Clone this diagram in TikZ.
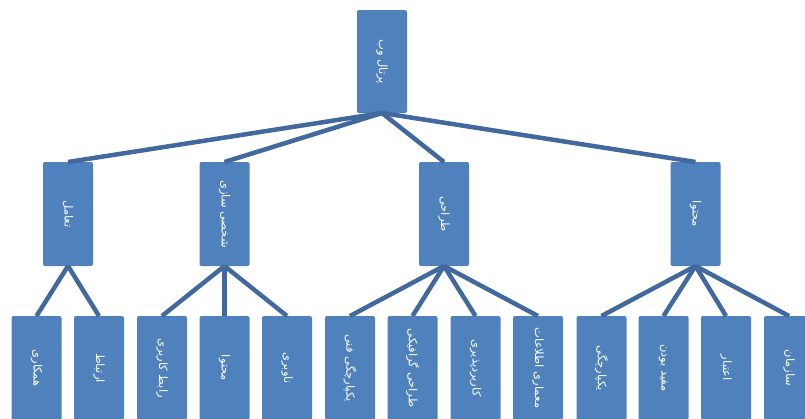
\documentclass[tikz,border=0pt]{standalone}
\usepackage{fontspec}
\usepackage{tikz}
\usetikzlibrary{positioning}
\TeXXeTstate=1
\newfontfamily\arabicfont[Script=Arabic]{DejaVu Sans}
\definecolor{ptBlue}{HTML}{4F81BD}
\definecolor{ptLine}{HTML}{41699E}
\newcommand{\fa}[1]{\rotatebox{-90}{\arabicfont\beginR #1\endR}}

\begin{document}
\begin{tikzpicture}[
  x=1pt, y=-1pt,
  kadr/.style={fill=ptBlue, rounded corners=2pt, minimum width=50pt,
               minimum height=104pt, inner sep=0pt, outer sep=0pt, anchor=north,
               text=white, font=\fontsize{11.5}{13}\selectfont},
  yal/.style={ptLine, line width=4.5pt}
]
\useasboundingbox (0,0) rectangle (805,418);

% root
\node[kadr, minimum height=103pt] (portal) at (382,10) {\fa{پرتال وب}};

% level 2
\node[kadr] (taamol) at (68,162) {\fa{تعامل}};
\node[kadr] (shakhsi) at (224.5,162) {\fa{شخصی سازی}};
\node[kadr] (tarahi) at (444,162) {\fa{طراحی}};
\node[kadr] (mohtava) at (695.5,162) {\fa{محتوا}};

% level 3
\node[kadr] (hamkari) at (36.5,316) {\fa{همکاری}};
\node[kadr, right=12.5pt of hamkari] (ertebat) {\fa{ارتباط}};
\node[kadr, right=13pt of ertebat] (rabet) {\fa{رابط کاربری}};
\node[kadr, right=12.5pt of rabet] (mohtava2) {\fa{محتوا}};
\node[kadr, right=12.5pt of mohtava2] (navbari) {\fa{ناوبری}};
\node[kadr, right=13pt of navbari] (yekparchegifani) {\fa{یکپارچگی فنی}};
\node[kadr, right=12.5pt of yekparchegifani] (graphic) {\fa{طراحی گرافیکی}};
\node[kadr, right=13pt of graphic] (karbord) {\fa{کاربردپذیری}};
\node[kadr, right=12.5pt of karbord] (memari) {\fa{معماری اطلاعات}};
\node[kadr, right=13.5pt of memari] (yekparchegi) {\fa{یکپارچگی}};
\node[kadr, right=12pt of yekparchegi] (mofid) {\fa{مفید بودن}};
\node[kadr, right=12.5pt of mofid] (etebar) {\fa{اعتبار}};
\node[kadr, right=13pt of etebar] (sazman) {\fa{سازمان}};

\draw[yal] (portal.south) -- (taamol.north);
\draw[yal] (portal.south) -- (shakhsi.north);
\draw[yal] (portal.south) -- (tarahi.north);
\draw[yal] (portal.south) -- (mohtava.north);

\draw[yal] (taamol.south) -- (hamkari.north);
\draw[yal] (taamol.south) -- (ertebat.north);
\draw[yal] (shakhsi.south) -- (rabet.north);
\draw[yal] (shakhsi.south) -- (mohtava2.north);
\draw[yal] (shakhsi.south) -- (navbari.north);
\draw[yal] (tarahi.south) -- (yekparchegifani.north);
\draw[yal] (tarahi.south) -- (graphic.north);
\draw[yal] (tarahi.south) -- (karbord.north);
\draw[yal] (tarahi.south) -- (memari.north);
\draw[yal] (mohtava.south) -- (yekparchegi.north);
\draw[yal] (mohtava.south) -- (mofid.north);
\draw[yal] (mohtava.south) -- (etebar.north);
\draw[yal] (mohtava.south) -- (sazman.north);

\end{tikzpicture}
\end{document}
